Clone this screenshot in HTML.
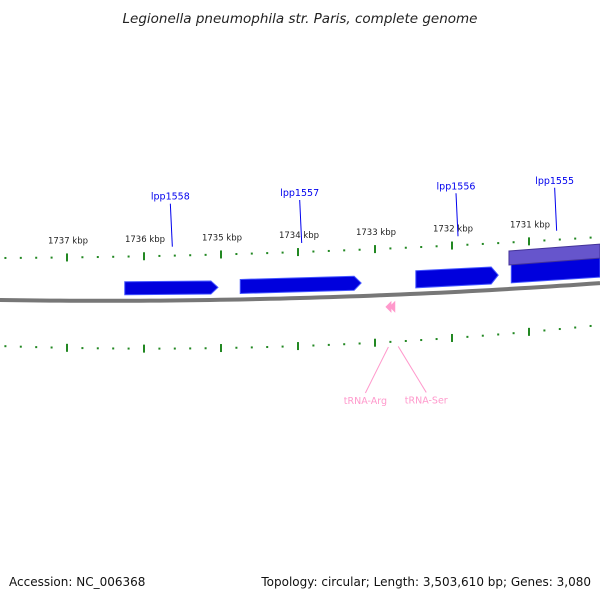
<!DOCTYPE html>
<html><head><meta charset="utf-8"><style>
html,body{margin:0;padding:0;background:#fff;}
svg{display:block;font-family:"DejaVu Sans","Liberation Sans",sans-serif;}
</style></head><body>
<svg id="map" width="600" height="600" viewBox="0 0 600 600">
<text x="300" y="23" text-anchor="middle" font-size="13.5" font-style="italic" fill="#222">Legionella pneumophila str. Paris, complete genome</text>
<g id="ticks"></g><g id="genes"></g><g id="labels"></g>
<text x="9" y="586" font-size="12" fill="#111">Accession: NC_006368</text>
<text x="591" y="586" text-anchor="end" font-size="12" fill="#111">Topology: circular; Length: 3,503,610 bp; Genes: 3,080</text>
</svg>
<script>
const kbpTicks=[1737,1736,1735,1734,1733,1732,1731];
const geneNames=["lpp1558","lpp1557","lpp1556","lpp1555"];
const geneStartKbp=[1736.25,1734.75,1732.47,1731.23];
const geneEndKbp=[1735.04,1733.18,1731.40,1730.06];
const trnaNames=["tRNA-Arg","tRNA-Ser"];
const trnaKbp=[1732.80,1732.75];
const NS="http://www.w3.org/2000/svg";
const svg=document.getElementById('map');
const X=k=>67+(1737-k)*77;
const yU=x=>258-0.005*x-5e-5*x*x;
const yL=x=>346+0.035*x-1.167e-4*x*x;
const yB=x=>300+0.015*x-7.2e-5*x*x;
function mk(t,a,p){const e=document.createElementNS(NS,t);for(const k in a)e.setAttribute(k,a[k]);(p||svg).appendChild(e);return e;}
const tg=document.getElementById('ticks');
let pts=[];for(let x=0;x<=600;x+=10)pts.push(x+','+yB(x).toFixed(1));
let bb=mk('polyline',{points:pts.join(' '),fill:'none',stroke:'#777','stroke-width':4},tg);


for(let k=1738;k>=1729;k-=0.2){
 const kk=Math.round(k*10)/10;const x=X(kk);if(x<0||x>600)continue;
 const major=Math.abs(kk-Math.round(kk))<0.01;
 [yU,yL].forEach(f=>{const y=f(x);
  const t=mk('rect',{x:x-1,y:major?y-4:y-1,width:2,height:major?8:2,fill:'#228822'},tg);
  
  });
}
kbpTicks.forEach(k=>{const x=X(k);
 const t=mk('text',{x:x+1,y:yU(x)-14,'text-anchor':'middle','font-size':8.5,fill:'#222'},tg);
 t.textContent=k+' kbp';
 
 });
const gg=document.getElementById('genes');
const offs=[[6,19],[6,20],[6,23],[6,26]];
geneNames.forEach((n,i)=>{
 const x1=X(geneStartKbp[i]),x2=Math.min(X(geneEndKbp[i]),600);
 const [o1,o2]=offs[i];const arrow=X(geneEndKbp[i])<600;
 const x2b=arrow?x2-7:x2;
 const p=[[x1,yB(x1)-o2],[x2b,yB(x2b)-o2]];
 if(arrow)p.push([x2,(yB(x2)-o1+yB(x2)-o2)/2]);
 p.push([x2b,yB(x2b)-o1],[x1,yB(x1)-o1]);
 const g=mk('polygon',{points:p.map(q=>q.join(',')).join(' '),fill:'#0000dd',stroke:'#4455ff','stroke-width':1},gg);
 
 
 const lx=(x1+x2)/2;
 const l=mk('line',{x1:lx+1,y1:yU(lx)-9,x2:lx-1,y2:yU(lx)-52,stroke:'#0000ee','stroke-width':1},gg);
 
 
 const t=mk('text',{x:lx-1,y:yU(lx)-56,'text-anchor':'middle','font-size':9.5,fill:'#0000ee'},gg);
 t.textContent=n;
 
 
});
{const x1=X(1731.26),x2=600;
 const p=mk('polygon',{points:`${x1},${yB(x1)-38} ${x2},${yB(x2)-39} ${x2},${yB(x2)-25} ${x1},${yB(x1)-24}`,fill:'#6655cc',stroke:'#443399','stroke-width':1},gg);
 
 }
trnaNames.forEach((n,i)=>{const x=X(trnaKbp[i]);const y=yB(x)+12;
 const a=mk('polygon',{points:`${x-5},${y} ${x+1},${y-6} ${x+1},${y+6}`,fill:'#ff99cc'},gg);
 
 
 const lx=x+(i?4:-2);const ex=i?lx+28:lx-23;
 const l=mk('line',{x1:lx,y1:yL(lx)+5,x2:ex,y2:yL(lx)+51,stroke:'#ff99cc','stroke-width':1},gg);
 
 
 const t=mk('text',{x:ex,y:yL(lx)+62,'text-anchor':'middle','font-size':9.5,fill:'#ff99cc'},gg);
 t.textContent=n;
 
 });
</script>
</body></html>
